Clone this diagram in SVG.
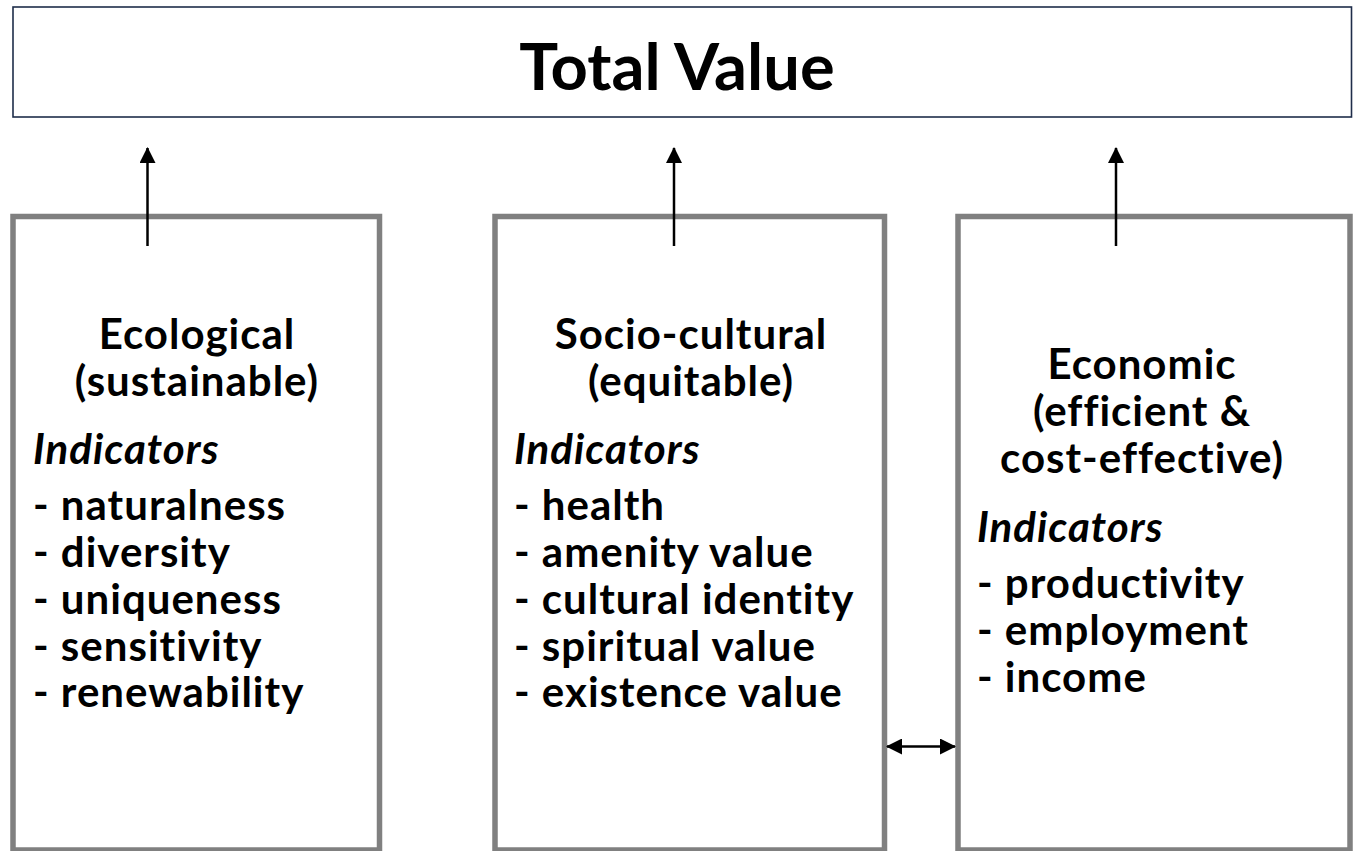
<svg xmlns="http://www.w3.org/2000/svg" width="1353" height="851" viewBox="0 0 1353 851">
<style>
.box{fill:#ffffff;stroke:#808080;stroke-width:5.5}
.t{font-family:Lato,"Liberation Sans",sans-serif;font-weight:bold;font-size:42px;letter-spacing:1px;fill:#000}
.c{text-anchor:middle}
.i{font-style:italic}
.conn{stroke:#000;stroke-width:2.5;fill:none}
</style>
<defs>
<marker id="ah" viewBox="0 0 16 16" refX="15" refY="8" markerWidth="16" markerHeight="16" markerUnits="userSpaceOnUse" orient="auto-start-reverse">
<path d="M0,0 L16,8 L0,16 Z" fill="#000"/>
</marker>
</defs>
<rect width="1353" height="851" fill="#ffffff"/>
<g id="total">
<rect x="13" y="7" width="1338.5" height="110" fill="#ffffff" stroke="#1f2d4a" stroke-width="1.6"/>
<text class="t c" x="677" y="90" style="font-size:65px;letter-spacing:0">Total Value</text>
</g>
<g id="ecological">
<rect class="box" x="13" y="216.5" width="366.5" height="633.5"/>
<text class="t c" x="197" y="349">Ecological</text>
<text class="t c" x="197" y="396">(sustainable)</text>
<text class="t i" x="33" y="464">Indicators</text>
<text class="t" x="33" y="520">- naturalness</text>
<text class="t" x="33" y="567">- diversity</text>
<text class="t" x="33" y="614">- uniqueness</text>
<text class="t" x="33" y="661">- sensitivity</text>
<text class="t" x="33" y="707">- renewability</text>
</g>
<g id="sociocultural">
<rect class="box" x="495" y="216.5" width="389.5" height="633.5"/>
<text class="t c" x="691" y="349">Socio-cultural</text>
<text class="t c" x="691" y="396">(equitable)</text>
<text class="t i" x="514" y="464">Indicators</text>
<text class="t" x="514" y="520">- health</text>
<text class="t" x="514" y="567">- amenity value</text>
<text class="t" x="514" y="614">- cultural identity</text>
<text class="t" x="514" y="661">- spiritual value</text>
<text class="t" x="514" y="707">- existence value</text>
</g>
<g id="economic">
<rect class="box" x="958" y="216.5" width="392" height="633.5"/>
<text class="t c" x="1142" y="379">Economic</text>
<text class="t c" x="1142" y="426">(efficient &amp;</text>
<text class="t c" x="1142" y="473">cost-effective)</text>
<text class="t i" x="977" y="542">Indicators</text>
<text class="t" x="977" y="598">- productivity</text>
<text class="t" x="977" y="645">- employment</text>
<text class="t" x="977" y="692">- income</text>
</g>
<g id="connectors">
<line class="conn" x1="147.5" y1="246" x2="147.5" y2="148" marker-end="url(#ah)"/>
<line class="conn" x1="674" y1="246" x2="674" y2="148" marker-end="url(#ah)"/>
<line class="conn" x1="1116" y1="246" x2="1116" y2="148" marker-end="url(#ah)"/>
<line class="conn" x1="887" y1="746.5" x2="955" y2="746.5" marker-start="url(#ah)" marker-end="url(#ah)"/>
</g>
</svg>
